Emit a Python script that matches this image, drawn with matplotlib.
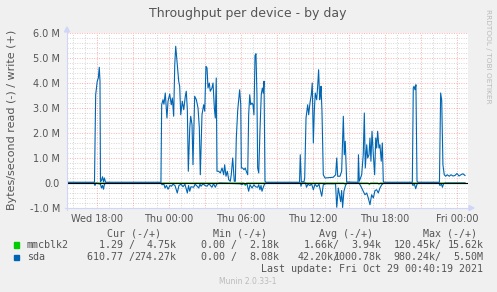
import matplotlib
matplotlib.use("Agg")
import matplotlib.pyplot as plt
from matplotlib.patches import Rectangle, Polygon
from matplotlib.lines import Line2D

# hours relative to Thu 00:00, values in MB/s
sda_write_t = [-8.5, -6.21, -6.11, -5.98, -5.89, -5.81, -5.75, -5.71, -5.63, -5.54, -5.46, -5.38, -5.29,
               -0.67, -0.61, -0.5, -0.42, -0.31, -0.17, -0.08, 0.06, 0.19, 0.28, 0.39, 0.48, 0.56, 0.69,
               0.81, 0.89, 0.98, 1.11, 1.23, 1.36, 1.44, 1.53, 1.61, 1.73, 1.81, 1.92, 2.0, 2.14, 2.28,
               2.42, 2.53, 2.61, 2.75, 2.89, 2.98, 3.08, 3.17, 3.25, 3.36, 3.44, 3.58, 3.67, 3.78, 3.86,
               3.94, 4.0, 4.14, 4.28, 4.42, 4.56, 4.64, 4.75, 4.86, 4.98, 5.11, 5.19, 5.31, 5.44, 5.53,
               5.61, 5.73, 5.81, 5.89, 5.98, 6.03, 6.14, 6.25, 6.36, 6.44, 6.56, 6.64, 6.73, 6.81, 6.92,
               7.0, 7.08, 7.17, 7.25, 7.33, 7.39, 7.48, 7.58, 7.69, 7.78, 7.86, 7.92, 8.0, 8.08,
               10.88, 10.94, 11.03, 11.25, 11.31, 11.42, 11.56, 11.64, 11.75, 11.86, 11.94, 12.03, 12.11,
               12.19, 12.31, 12.39, 12.47, 12.56, 12.63, 12.67, 12.75, 12.86, 13.0, 13.69, 13.89, 13.98,
               14.06, 14.25, 14.39, 14.53, 14.61, 14.69, 14.81, 15.75, 15.79, 15.86, 16.06, 16.19, 16.28,
               16.36, 16.48, 16.56, 16.67, 16.75, 16.83, 16.92, 17.03, 17.14, 17.23, 17.31, 17.39, 17.5,
               17.58, 17.69, 17.78, 17.86, 17.92, 20.28, 20.36, 20.42, 20.5, 20.58, 20.67, 20.75,
               22.54, 22.64, 22.73, 22.83, 22.94, 23.06, 23.19, 23.36, 23.5, 23.67, 23.83, 24.0, 24.17,
               24.33, 24.5, 24.67]
sda_write = [0.03, 0.03, 3.53, 4.07, 4.2, 4.63, 4.07, 0.05, 0.1, 0.25, 0.05, 0.2, 0.03,
             0.03, 3.13, 3.33, 3.15, 3.6, 2.6, 3.27, 3.56, 3.13, 3.4, 2.67, 4.73, 5.47, 4.73,
             4.07, 3.87, 2.73, 3.27, 2.93, 3.47, 3.67, 2.93, 0.47, 2.2, 2.67, 2.33, 0.73, 3.47, 3.33,
             3.0, 2.2, 0.33, 2.73, 3.13, 2.87, 4.67, 4.6, 3.8, 4.0, 3.67, 3.8, 4.0, 3.0, 2.6,
             4.2, 0.47, 0.47, 0.4, 0.6, 0.33, 0.73, 0.27, 0.47, 0.13, 0.07, 0.33, 1.0, 0.07, 0.07,
             1.8, 2.93, 3.33, 3.73, 3.13, 0.6, 0.6, 0.53, 0.6, 0.47, 0.33, 2.73, 3.53, 3.13, 3.2,
             3.13, 2.73, 5.1, 5.17, 3.53, 0.6, 0.4, 2.07, 3.53, 3.8, 3.6, 4.07, 0.07, 0.03,
             0.03, 1.13, 0.05, 0.05, 0.2, 2.6, 3.13, 2.73, 3.2, 3.53, 4.0, 1.6, 2.87,
             3.6, 3.33, 3.87, 4.53, 3.33, 3.6, 3.87, 2.87, 0.33, 0.2, 0.23, 0.33, 1.0,
             0.27, 0.27, 0.47, 2.67, 1.13, 1.67, 0.04, 0.03, 1.13, 0.07, 0.33, 1.13, 2.8,
             0.6, 1.53, 1.0, 1.13, 1.8, 0.87, 2.07, 1.13, 0.33, 1.8, 1.4, 2.07, 1.4,
             1.53, 0.87, 1.6, 0.07, 0.03, 0.03, 3.8, 3.87, 3.73, 3.93, 0.07, 0.03,
             0.03, 3.6, 3.3, 0.73, 0.33, 0.27, 0.33, 0.27, 0.33, 0.28, 0.3, 0.38, 0.28,
             0.33, 0.37, 0.3]

sda_read_t = [-8.5, -6.25, -6.17, -6.08, -5.71, -5.63, -5.54, -5.46, -5.38, -5.25,
              -0.67, -0.58, -0.42, -0.33, -0.21, -0.08, 0.08, 0.21, 0.33, 0.5, 0.69, 0.83, 1.0,
              1.17, 1.33, 1.53, 1.63, 1.73, 1.83, 2.06, 2.17, 2.29, 2.48, 2.58, 2.67, 2.83, 3.0,
              3.17, 3.33, 3.58, 3.71, 3.86, 4.0, 4.25, 5.25, 5.92, 6.08, 6.21, 6.36, 6.5, 6.64,
              6.75, 6.92, 7.08, 7.21, 7.39, 7.48, 7.58, 7.67, 7.75, 7.86, 7.96, 8.08,
              10.96, 11.0, 11.08, 11.38, 11.46, 11.58, 11.75, 11.88, 12.03, 12.17, 12.33, 12.5,
              12.73, 12.86, 13.08, 13.88, 13.98, 14.11, 14.31, 14.39, 14.47, 14.58, 14.71, 14.83,
              15.83, 15.92, 16.06, 16.19, 16.33, 16.48, 16.61, 16.75, 16.89, 17.03, 17.17, 17.31,
              17.44, 17.58, 17.73, 17.83, 17.92, 20.25, 20.33, 20.46, 20.56, 20.67, 20.75,
              22.5, 22.58, 22.71, 22.79, 22.88, 23.0, 24.67]
sda_read = [0, 0, 0.1, 0, 0.05, 0.2, 0.1, 0.25, 0.05, 0,
            0, 0.07, 0.05, 0.2, 0.1, 0.25, 0.1, 0.13, 0.05, 0.1, 0.4, 0.1, 0.05,
            0.15, 0.05, 0.4, 0.1, 0.33, 0.15, 0.17, 0.05, 0.1, 0.2, 0.05, 0.13, 0.03, 0.1,
            0.13, 0.03, 0.17, 0.03, 0.17, 0.03, 0, 0.02, 0.03, 0.07, 0.02, 0.05, 0.03, 0.33,
            0.07, 0.2, 0.07, 0.15, 0.17, 0.07, 0.27, 0.1, 0.33, 0.17, 0.05, 0,
            0, 0.13, 0, 0, 0.17, 0.05, 0.1, 0.03, 0.27, 0.05, 0.15, 0.05,
            0.53, 0.07, 0.03, 0.03, 0.97, 0.2, 0.75, 0.3, 0.98, 0.33, 0.1, 0,
            0, 0.07, 0.2, 0.33, 0.47, 0.4, 0.6, 0.87, 0.47, 0.6, 0.3, 0.27,
            0.4, 0.2, 0.07, 0.03, 0, 0, 0.1, 0.05, 0.23, 0.05, 0,
            0, 0.1, 0.05, 0.17, 0.03, 0, 0]

mmc_read_t = [-8.5, 6.25, 6.36, 6.47, 14.6, 14.67, 14.75, 16.6, 16.7, 16.8, 17.4, 17.5, 17.6, 24.67]
mmc_read = [0, 0, 0.1, 0, 0, 0.05, 0, 0, 0.06, 0, 0, 0.05, 0, 0]
mmc_write_t = [-8.5, 24.67]
mmc_write = [0.0, 0.0]

x_ticks = [-6, 0, 6, 12, 18, 24]
x_labels = ["Wed 18:00", "Thu 00:00", "Thu 06:00", "Thu 12:00", "Thu 18:00", "Fri 00:00"]
y_ticks = [-1, 0, 1, 2, 3, 4, 5, 6]
y_labels = ["-1.0 M", "0.0", "1.0 M", "2.0 M", "3.0 M", "4.0 M", "5.0 M", "6.0 M"]

legend_names = ["mmcblk2", "sda"]
legend_colors = ["#00CC00", "#0066B3"]
cur = [("1.29 ", "4.75k"), ("610.77 ", "274.27k")]
mins = [("0.00 ", "2.18k"), ("0.00 ", "8.08k")]
avgs = [("1.66k", "3.94k"), ("42.20k", "1000.78k")]
maxs = [("120.45k", "15.62k"), ("980.24k", "5.50M")]

W, H = 497, 292
FONT = "#555555"


def fx(px):
    return px / W


def fy(py):
    return 1 - py / H


fig = plt.figure(figsize=(W / 100, H / 100), dpi=100, facecolor="#F0F0F0")
ax = fig.add_axes([fx(67), fy(208), 401 / W, 175 / H])
ax.set_facecolor("white")
ax.set_xlim(-8.5, 24.92)
ax.set_ylim(-1, 6)
for s in ax.spines.values():
    s.set_visible(False)

# grid
for h in range(-8, 25):
    if h % 3 == 0:
        ax.axvline(h, color=(1, 0.3, 0.3, 0.45), lw=0.7, dashes=(1, 1.5), zorder=1)
    else:
        ax.axvline(h, color=(0.5, 0.5, 0.5, 0.32), lw=0.7, dashes=(1, 1.5), zorder=1)
for i in range(-5, 31):
    v = i * 0.2
    if i % 5 == 0:
        ax.axhline(v, color=(1, 0.3, 0.3, 0.45), lw=0.7, dashes=(1, 1.5), zorder=1)
    else:
        ax.axhline(v, color=(0.5, 0.5, 0.5, 0.32), lw=0.7, dashes=(1, 1.5), zorder=1)

ax.plot(mmc_write_t, mmc_write, color="#00CC00", lw=0.8, zorder=2)
ax.plot(mmc_read_t, [-v for v in mmc_read], color="#00CC00", lw=0.8, zorder=2)
ax.plot(sda_read_t, [-v for v in sda_read], color="#0066B3", lw=0.8, zorder=3)
ax.plot(sda_write_t, sda_write, color="#0066B3", lw=0.8, zorder=3)
ax.axhline(0, color="black", lw=0.8, zorder=4)

ax.set_xticks(x_ticks)
ax.set_xticklabels(x_labels)
ax.set_yticks(y_ticks)
ax.set_yticklabels(y_labels)
ax.tick_params(axis="both", length=0, labelsize=7, labelcolor=FONT)
ax.tick_params(axis="y", pad=5)
ax.tick_params(axis="x", pad=4)

# axes with arrows
acol = "#CFD6F8"
fig.add_artist(Line2D([fx(67), fx(67)], [fy(210), fy(31)], color=acol, lw=0.8))
fig.add_artist(Line2D([fx(65), fx(469)], [fy(208), fy(208)], color=acol, lw=0.8))
fig.add_artist(Polygon([[fx(64.5), fy(32)], [fx(69.5), fy(32)], [fx(67), fy(27)]], closed=True, color=acol))
fig.add_artist(Polygon([[fx(469), fy(205.5)], [fx(469), fy(210.5)], [fx(474), fy(208)]], closed=True, color=acol))

fig.text(fx(248), fy(13.5), "Throughput per device - by day", ha="center", va="center", fontsize=9, color=FONT)
fig.text(fx(12), fy(120), "Bytes/second read (-) / write (+)", rotation=90, ha="center", va="center",
         fontsize=8, color=FONT)
fig.text(fx(488), fy(56), "RRDTOOL / TOBI OETIKER", rotation=270, ha="center", va="center",
         fontsize=5.3, color="#BBBBBB")

mono = dict(family="DejaVu Sans Mono", fontsize=7.2, color=FONT, va="center")
cw = 6.0
for hx, name in zip([107.3, 213, 319, 423.3], ["Cur (-/+)", "Min (-/+)", "Avg (-/+)", "Max (-/+)"]):
    fig.text(fx(hx), fy(234), name, ha="left", **mono)

col_ends = [176.7, 279.3, 381.7, 483.3]
rows_y = [245, 257.3]
for r in range(2):
    y = rows_y[r]
    fig.patches.append(Rectangle((fx(14), fy(y + 2.6)), 5.3 / W, 5.2 / H, color=legend_colors[r],
                                 transform=fig.transFigure, figure=fig))
    fig.text(fx(26.7), fy(y), legend_names[r], ha="left", **mono)
    for c, col in enumerate([cur, mins, avgs, maxs]):
        rd, wr = col[r]
        fig.text(fx(col_ends[c] - 7 * cw), fy(y), rd + "/", ha="right", **mono)
        fig.text(fx(col_ends[c]), fy(y), wr, ha="right", **mono)

fig.text(fx(483.3), fy(269.5), "Last update: Fri Oct 29 00:40:19 2021", ha="right", **mono)
fig.text(fx(248), fy(281.5), "Munin 2.0.33-1", ha="center", va="center", fontsize=5.5, color="#BBBBBB")

fig.savefig("out.png", dpi=100, facecolor=fig.get_facecolor())
